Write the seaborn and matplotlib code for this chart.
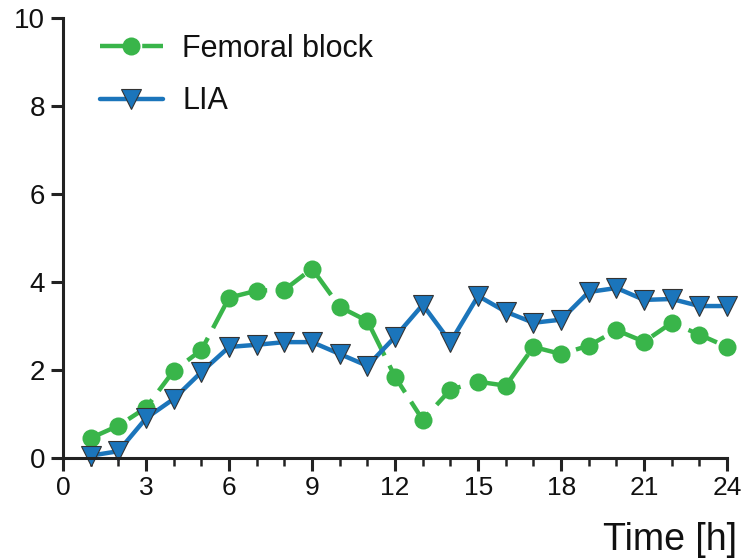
import matplotlib
matplotlib.use("Agg")
import matplotlib.pyplot as plt
import seaborn as sns
import numpy as np
import pandas as pd
from matplotlib.ticker import MultipleLocator

hours = list(range(1, 25))
femoral = [0.45, 0.73, 1.14, 1.98, 2.45, 3.64, 3.80, 3.82, 4.30, 3.43, 3.11, 1.84,
           0.86, 1.55, 1.73, 1.64, 2.52, 2.36, 2.55, 2.90, 2.64, 3.07, 2.80, 2.52]
lia = [0.05, 0.15, 0.90, 1.34, 1.95, 2.52, 2.57, 2.63, 2.63, 2.36, 2.09, 2.75,
       3.48, 2.63, 3.68, 3.32, 3.07, 3.14, 3.77, 3.86, 3.59, 3.61, 3.45, 3.45]
x_ticks = [0, 3, 6, 9, 12, 15, 18, 21, 24]
y_ticks = [0, 2, 4, 6, 8, 10]

sns.set_theme(style="ticks")
plt.rcParams['font.family'] = ['Liberation Sans', 'DejaVu Sans']

fig = plt.figure(figsize=(7.42, 5.59), dpi=100)
ax = fig.add_axes([0.085, 0.181, 0.895, 0.787])

green = "#39b54a"
blue = "#1b75bb"

sns.lineplot(x=hours, y=femoral, ax=ax, color=green, linewidth=3.2,
             marker="o", markersize=13, markeredgewidth=0, label="Femoral block")
ax.lines[-1].set_dashes((7, 2.5))
sns.lineplot(x=hours, y=lia, ax=ax, color=blue, linewidth=3.2,
             marker="v", markersize=15, markeredgecolor="#333333",
             markeredgewidth=0.8, label="LIA")

ax.set_xlim(0, 24)
ax.set_ylim(0, 10)
ax.set_xticks(x_ticks)
ax.set_yticks(y_ticks)
ax.xaxis.set_minor_locator(MultipleLocator(1))
for lab in ax.get_xticklabels():
    lab.set_fontsize(19)
for lab in ax.get_yticklabels():
    lab.set_fontsize(20)
ax.tick_params(axis="both", which="major", length=9, width=2.2, color="#222222",
               labelcolor="#111111", pad=4)
ax.tick_params(axis="x", which="minor", length=6, width=1.8, color="#222222")
for s in ["left", "bottom"]:
    ax.spines[s].set_linewidth(2.2)
    ax.spines[s].set_color("#222222")
sns.despine(ax=ax)
for line in ax.lines:
    line.set_clip_on(False)

ax.set_xlabel("Time [h]", fontsize=27, color="#111111")
ax.xaxis.set_label_coords(1.015, -0.145)
ax.xaxis.label.set_horizontalalignment("right")
ax.set_ylabel("")

leg = ax.legend(loc="upper left", bbox_to_anchor=(0.014, 1.027), frameon=False,
                fontsize=22, handlelength=2.05, labelspacing=0.75, handletextpad=0.65)
for t in leg.get_texts():
    t.set_color("#111111")

fig.savefig("out.png", dpi=100)
